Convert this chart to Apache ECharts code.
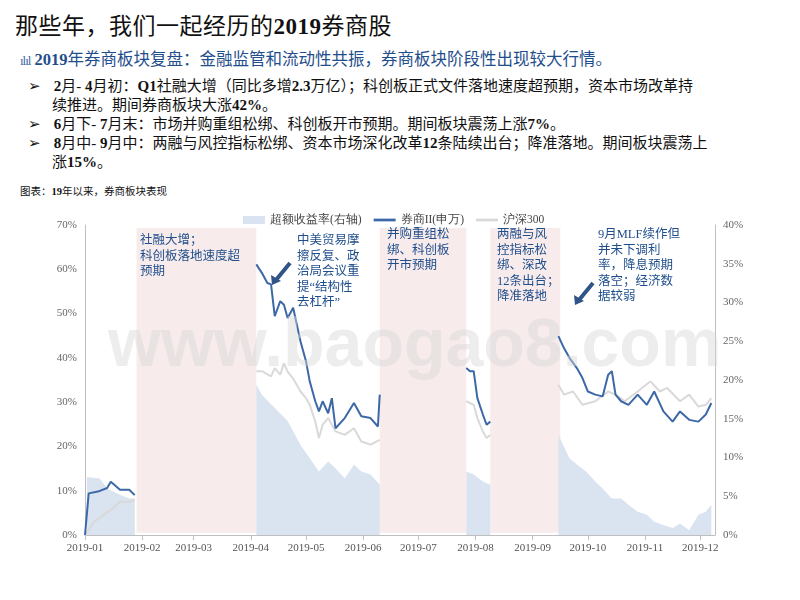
<!DOCTYPE html>
<html>
<head>
<meta charset="utf-8">
<title>那些年，我们一起经历的2019券商股</title>
<script src="https://cdn.jsdelivr.net/npm/echarts@6/dist/echarts.min.js"></script>
<style>
    * { margin: 0; padding: 0; }
    body { width: 800px; height: 600px; background: #fff; position: relative; overflow: hidden;
           font-family: "Liberation Serif", "Noto Sans CJK SC", serif; }
    #title { position: absolute; left: 15px; top: 7px; font-size: 23px; color: #111; letter-spacing: 0.5px; }
    #sub { position: absolute; left: 20px; top: 46px; font-size: 16.5px; color: #1F4E8C; }
    #sub i { font-style: normal; font-size: 13px; letter-spacing: -1px; color: #3D68A8; }
    .pt { position: absolute; left: 28px; font-size: 15px; color: #111; line-height: 19px; width: 740px; }
    .pt span.a { display: inline-block; width: 22px; }
    .pt .ind { padding-left: 24px; }
    #cap { position: absolute; left: 20px; top: 183px; font-size: 10.5px; color: #111; }
    #main { position: absolute; left: 30px; top: 205px; width: 750px; height: 360px; }
</style>
</head>
<body>
<div id="title">那些年，我们一起经历的<b>2019</b>券商股</div>
<div id="sub"><i>ılıl</i> <b>2019</b>年券商板块复盘：金融监管和流动性共振，券商板块阶段性出现较大行情。</div>
<div class="pt" style="top:77px"><span class="a">➢</span> <b>2</b>月- <b>4</b>月初：<b>Q1</b>社融大增（同比多增<b>2.3</b>万亿）；科创板正式文件落地速度超预期，资本市场改革持<br><span class="ind">续推进。期间券商板块大涨<b>42%</b>。</span></div>
<div class="pt" style="top:115px"><span class="a">➢</span> <b>6</b>月下- <b>7</b>月末：市场并购重组松绑、科创板开市预期。期间板块震荡上涨<b>7%</b>。</div>
<div class="pt" style="top:134px"><span class="a">➢</span> <b>8</b>月中- <b>9</b>月中：两融与风控指标松绑、资本市场深化改革<b>12</b>条陆续出台；降准落地。期间板块震荡上<br><span class="ind">涨<b>15%</b>。</span></div>
<div id="cap">图表：<b>19</b>年以来，券商板块表现</div>
<div id="main"></div>
<script>
    // day offsets from 2019-01-01, null value = gap hidden behind a shaded band
    var brokerDays = [0, 2, 7, 12, 14, 19, 24, 27, 60,
        93, 96, 99, 101, 103, 106, 108, 110, 113, 115, 117, 120, 122, 125, 127, 129, 132, 134, 136, 141, 146, 150, 155, 159, 160, 185,
        207, 209, 211, 213, 216, 218, 220, 238,
        257, 260, 263, 267, 270, 273, 277, 281, 284, 286, 288, 291, 295, 300, 305, 309, 314, 319, 323, 328, 333, 337, 340];
    var brokerVals = [0, 9.4, 9.8, 10.6, 12, 10.2, 10.2, 9, null,
        61.1, 59.2, 56.9, 56.6, 49.4, 52.8, 52, 49, 51.3, 47.5, 43.7, 39.2, 34.7, 30.2, 27.9, 30.2, 27.5, 30.9, 24.1, 26.4, 29.8, 26.8, 26.4, 24.5, 31.7, null,
        37.7, 37, 37, 30.9, 27.2, 24.9, 25.6, null,
        44.9, 42.2, 40, 37.7, 35.5, 32.4, 31.7, 31.3, 36.2, 37, 31.7, 30.2, 29.4, 31.7, 29.4, 32.4, 27.9, 25.6, 27.9, 26, 25.6, 27.2, 29.8];

    var hsDays = [0, 5, 10, 15, 19, 24, 27, 60,
        93, 96, 101, 103, 106, 108, 110, 113, 115, 117, 120, 122, 125, 127, 129, 132, 136, 141, 146, 150, 155, 160, 185,
        207, 211, 213, 216, 218, 220, 238,
        257, 260, 265, 270, 277, 284, 288, 293, 300, 307, 312, 316, 323, 328, 333, 337, 340];
    var hsVals = [0, 3, 4.5, 6, 7.5, 7.5, 7.9, null,
        37, 37, 35.8, 37.7, 36.2, 38.8, 36.9, 35.3, 33.9, 32.4, 30.9, 29.4, 25.6, 21.9, 24.9, 26.4, 23.4, 22.6, 24.1, 21.1, 20.4, 21.5, null,
        30.2, 29.4, 26.4, 23.4, 21.9, 22.6, null,
        33.9, 31.7, 32.4, 29.4, 30.2, 32.4, 31.7, 30.2, 32.4, 34.7, 32.4, 33.2, 30.2, 31.7, 29, 29.4, 30.9];

    var excessDays = [1, 2, 8, 12, 19, 24, 27, 60,
        93, 96, 103, 110, 117, 122, 127, 132, 136, 141, 146, 150, 155, 160, 185,
        207, 211, 216, 220, 238,
        257, 263, 267, 272, 277, 281, 286, 291, 295, 300, 305, 309, 314, 319, 323, 328, 333, 337, 340];
    var excessVals = [7.5, 7.5, 7.3, 6, 5.2, 4.7, 4.7, null,
        19.4, 18.1, 16.4, 14.7, 11.6, 9.9, 8.2, 9.5, 8.6, 7.3, 9.1, 8.2, 7.8, 6.5, null,
        8.2, 7.8, 6.9, 6.5, null,
        12.9, 9.9, 9.1, 8.2, 6.9, 6, 4.7, 4.7, 3.9, 3, 2.6, 1.7, 1.3, 0.9, 1.5, 0.6, 2.6, 3, 3.9];

    // shaded periods [startDay, endDay]
    var bands = [[28, 93], [160, 207], [220, 258]];

    var notes = [
        { x: 110, y: 28, text: '社融大增；\n科创板落地速度超\n预期' },
        { x: 267, y: 28, text: '中美贸易摩\n擦反复、政\n治局会议重\n提“结构性\n去杠杆”' },
        { x: 357, y: 22, text: '并购重组松\n绑、科创板\n开市预期' },
        { x: 467, y: 22, text: '两融与风\n控指标松\n绑、深改\n12条出台；\n降准落地' },
        { x: 568, y: 22, text: '9月MLF续作但\n并未下调利\n率，降息预期\n落空；经济数\n据较弱' }
    ];

    var base = Date.UTC(2019, 0, 1);
    function t(d) { return base + d * 86400000; }
    function pairs(days, vals) {
        return days.map(function (d, i) { return [t(d), vals[i]]; });
    }

    var blue = '#3D68A8';
    var noteColor = '#1F4E8C';
    var chart = echarts.init(document.getElementById('main'));

    var graphics = notes.map(function (n) {
        return {
            type: 'text', left: n.x, top: n.y, z: 100,
            style: { text: n.text, fill: noteColor, font: '12.5px "Liberation Serif", "Noto Sans CJK SC"', lineHeight: 15.5 }
        };
    });
    graphics.push({ type: 'text', left: 78, top: 108, z: 50, silent: true,
        style: { text: 'www.baogao8.com', fill: 'rgba(215,215,215,0.45)', font: 'bold 68px "Liberation Sans"' } });
    // arrows
    [[260, 58, 242, 80], [563, 78, 545, 100]].forEach(function (a) {
        graphics.push({ type: 'line', z: 100, shape: { x1: a[0], y1: a[1], x2: a[2] + 4, y2: a[3] - 5 },
            style: { stroke: '#2F5487', lineWidth: 4 } });
        graphics.push({ type: 'polygon', z: 100,
            shape: { points: [[a[2], a[3]], [a[2] - 1, a[3] - 10], [a[2] + 9, a[3] - 4]] },
            style: { fill: '#2F5487' } });
    });

    var lineIcon = 'path://M0,0L20,0L20,2.5L0,2.5Z';
    var option = {
        animation: false,
        textStyle: { fontFamily: 'Liberation Serif' },
        grid: { left: 55, right: 65, top: 20, bottom: 30 },
        legend: {
            top: 4, left: 208, itemGap: 12, itemWidth: 22, itemHeight: 8,
            textStyle: { fontSize: 11.5, color: '#444', fontFamily: 'Liberation Serif' },
            data: [
                { name: '超额收益率(右轴)', icon: 'rect' },
                { name: '券商II(申万)', icon: lineIcon },
                { name: '沪深300', icon: lineIcon }
            ]
        },
        graphic: graphics,
        xAxis: {
            type: 'time', min: t(0), max: t(342),
            minInterval: 28 * 86400000, maxInterval: 31 * 86400000,
            axisLine: { lineStyle: { color: '#BFBFBF' } },
            axisTick: { show: true, lineStyle: { color: '#BFBFBF' } },
            axisLabel: { color: '#555', fontSize: 11, formatter: '{yyyy}-{MM}', hideOverlap: false },
            splitLine: { show: false }
        },
        yAxis: [
            { type: 'value', min: 0, max: 70, interval: 10,
              axisLine: { show: true, lineStyle: { color: '#BFBFBF' } },
              axisLabel: { color: '#666', fontSize: 11, formatter: '{value}%' },
              splitLine: { show: false } },
            { type: 'value', min: 0, max: 40, interval: 5,
              axisLine: { show: true, lineStyle: { color: '#BFBFBF' } },
              axisLabel: { color: '#666', fontSize: 11, formatter: '{value}%' },
              splitLine: { show: false } }
        ],
        series: [
            { name: '超额收益率(右轴)', type: 'line', yAxisIndex: 1, symbol: 'none', z: 1,
              itemStyle: { color: '#DAE3F0' },
              lineStyle: { width: 0 }, areaStyle: { color: '#DAE3F0', opacity: 1 },
              data: pairs(excessDays, excessVals),
              markArea: {
                  silent: true, itemStyle: { color: '#F7EBEB' },
                  data: bands.map(function (b) {
                      return [{ xAxis: t(b[0]), y: 23 }, { xAxis: t(b[1]), yAxis: 0.3 }];
                  })
              } },
            { name: '沪深300', type: 'line', symbol: 'none', z: 2,
              itemStyle: { color: '#D9D9D9' }, lineStyle: { color: '#D9D9D9', width: 2 },
              data: pairs(hsDays, hsVals) },
            { name: '券商II(申万)', type: 'line', symbol: 'none', z: 3,
              itemStyle: { color: blue }, lineStyle: { color: blue, width: 2 },
              data: pairs(brokerDays, brokerVals) }
        ]
    };
    chart.setOption(option);
</script>
</body>
</html>
